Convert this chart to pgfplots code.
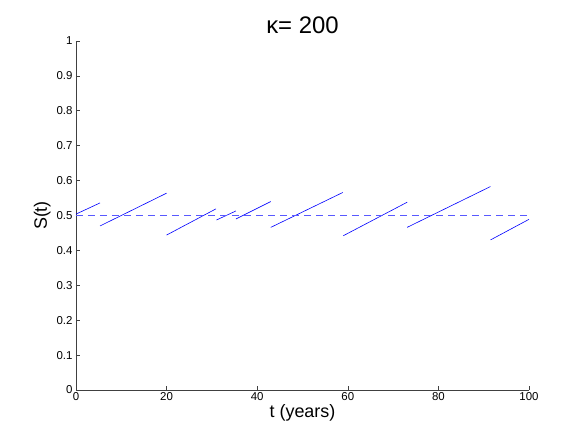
\documentclass[border=0pt]{standalone}
\usepackage{fontspec}
\setmainfont{Liberation Sans}
\usepackage{pgfplots}
\pgfplotsset{compat=1.18}
\begin{document}
\begin{tikzpicture}
\begin{axis}[scale only axis,width=453bp,height=349bp,
  xmin=0,xmax=100,ymin=0,ymax=1,
  axis lines*=left,
  xtick={0,20,...,100},ytick={0,0.1,...,1},
  yticklabels={0,0.1,0.2,0.3,0.4,0.5,0.6,0.7,0.8,0.9,1},
  tick align=inside,major tick length=4bp,
  axis line style={black!75,line width=0.6pt},tick style={black!75,line width=0.6pt},
  tick label style={font=\fontsize{11.5}{12}\selectfont},
  /pgf/number format/assume math mode=true,
  xticklabel style={yshift=1bp},
  xlabel={t (years)},ylabel={S(t)},
  label style={font=\fontsize{18}{20}\selectfont},
  xlabel style={yshift=3bp},ylabel style={yshift=-1bp},
  title={κ= 200},title style={font=\fontsize{24}{26}\selectfont,yshift=-2bp},
  clip=false]
% sawtooth segments
\addplot[blue,line width=0.6pt] coordinates {(0,0.504) (5.3,0.536)};
\addplot[blue,line width=0.6pt] coordinates {(5.3,0.470) (20.0,0.564)};
\addplot[blue,line width=0.6pt] coordinates {(20.0,0.444) (30.9,0.519)};
\addplot[blue,line width=0.6pt] coordinates {(31.0,0.487) (35.3,0.513)};
\addplot[blue,line width=0.6pt] coordinates {(35.3,0.490) (43.0,0.540)};
\addplot[blue,line width=0.6pt] coordinates {(43.0,0.466) (58.9,0.566)};
\addplot[blue,line width=0.6pt] coordinates {(59.0,0.442) (73.1,0.538)};
\addplot[blue,line width=0.6pt] coordinates {(73.1,0.466) (91.5,0.583)};
\addplot[blue,line width=0.6pt] coordinates {(91.5,0.430) (100,0.489)};
% reference level
\addplot[blue!65,dash pattern=on 7bp off 5bp,line width=0.8pt] coordinates {(0,0.5) (100,0.5)};
\end{axis}
\pgfresetboundingbox
\path (-76bp,-49bp) rectangle (508bp,390bp);
\end{tikzpicture}
\end{document}
